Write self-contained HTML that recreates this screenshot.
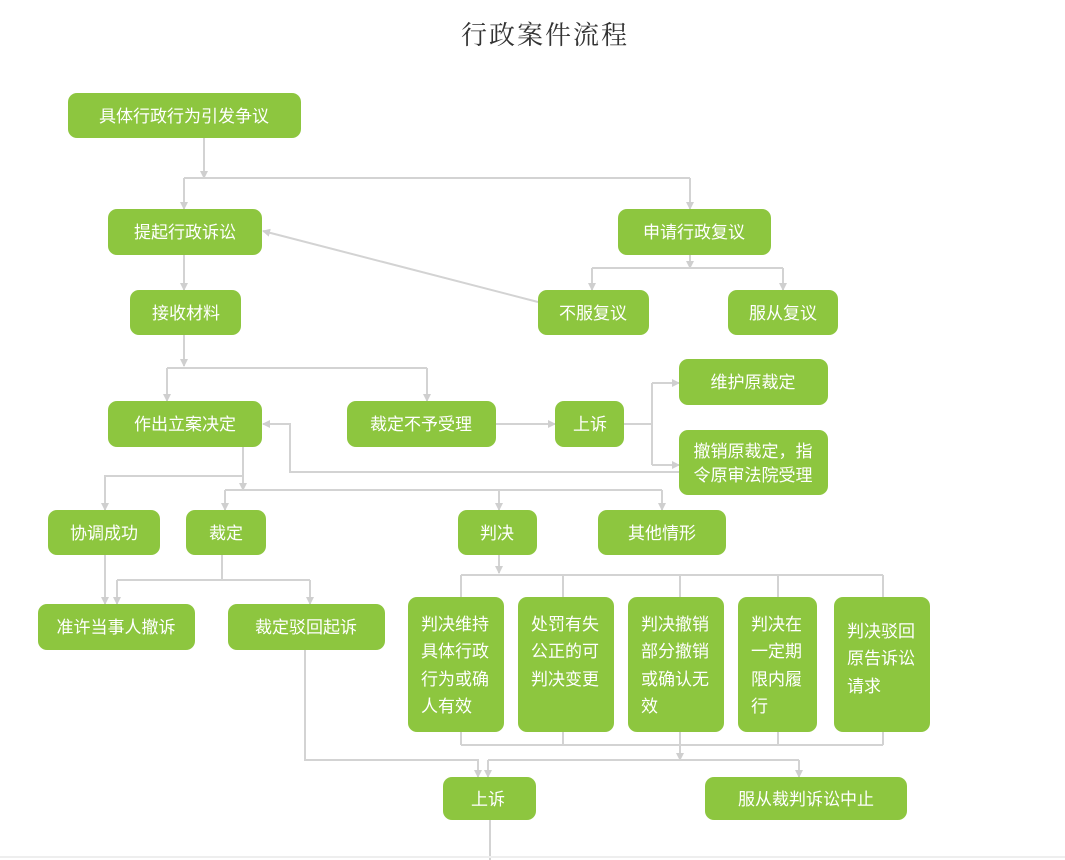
<!DOCTYPE html>
<html><head><meta charset="utf-8"><style>
html,body{margin:0;padding:0;background:#fff;}
svg{display:block}
text{font-family:"Liberation Sans","Noto Sans CJK SC",sans-serif;fill:#fff;font-size:17px;}
</style></head><body>
<svg width="1065" height="860" viewBox="0 0 1065 860" xmlns="http://www.w3.org/2000/svg">
<defs><marker id="a" markerWidth="8" markerHeight="8" refX="7" refY="4" orient="auto" markerUnits="userSpaceOnUse"><path d="M0,0 L8,4 L0,8 z" fill="#cfcfcf"/></marker></defs>
<text x="545" y="44" text-anchor="middle" style="fill:#333;font-size:26px;font-family:'Noto Serif CJK SC','Noto Sans CJK SC',serif;letter-spacing:2px">行政案件流程</text>
<g stroke="#d3d3d3" stroke-width="2" fill="none">
<path d="M204 138V178" marker-end="url(#a)"/>
<path d="M184 178H690"/>
<path d="M184 178V209" marker-end="url(#a)"/>
<path d="M690 178V209" marker-end="url(#a)"/>
<path d="M184 255V290" marker-end="url(#a)"/>
<path d="M538 302L263 231" marker-end="url(#a)"/>
<path d="M690 255V268" marker-end="url(#a)"/>
<path d="M592 268H783"/>
<path d="M592 268V290" marker-end="url(#a)"/>
<path d="M783 268V290" marker-end="url(#a)"/>
<path d="M184 335V366" marker-end="url(#a)"/>
<path d="M167 368H427"/>
<path d="M167 368V401" marker-end="url(#a)"/>
<path d="M427 368V401" marker-end="url(#a)"/>
<path d="M496 424H555" marker-end="url(#a)"/>
<path d="M624 424H652"/>
<path d="M652 383V465"/>
<path d="M652 383H679" marker-end="url(#a)"/>
<path d="M652 465H679" marker-end="url(#a)"/>
<path d="M679 472H290V424H263" marker-end="url(#a)"/>
<path d="M243 447V490" marker-end="url(#a)"/>
<path d="M243 476H105V510" marker-end="url(#a)"/>
<path d="M225 490H662"/>
<path d="M225 490V510" marker-end="url(#a)"/>
<path d="M499 490V510" marker-end="url(#a)"/>
<path d="M662 490V510" marker-end="url(#a)"/>
<path d="M105 555V604" marker-end="url(#a)"/>
<path d="M222 555V580"/>
<path d="M117 580H310"/>
<path d="M117 580V604" marker-end="url(#a)"/>
<path d="M310 580V604" marker-end="url(#a)"/>
<path d="M499 555V573" marker-end="url(#a)"/>
<path d="M461 575H883"/>
<path d="M461 575V597M563 575V597M680 575V597M778 575V597M883 575V597"/>
<path d="M461 732V745M563 732V745M680 732V745M778 732V745M883 732V745"/>
<path d="M461 745H883"/>
<path d="M680 745V760" marker-end="url(#a)"/>
<path d="M488 760H799"/>
<path d="M488 760V777" marker-end="url(#a)"/>
<path d="M799 760V777" marker-end="url(#a)"/>
<path d="M305 650V760H478V777" marker-end="url(#a)"/>
<path d="M490 820V860"/>
</g>
<line x1="0" y1="857" x2="1065" y2="857" stroke="#eee" stroke-width="2"/>
<g fill="#8dc63f">
<rect x="68" y="93" width="233" height="45" rx="9"/>
<rect x="108" y="209" width="154" height="46" rx="9"/>
<rect x="618" y="209" width="153" height="46" rx="9"/>
<rect x="130" y="290" width="111" height="45" rx="9"/>
<rect x="538" y="290" width="111" height="45" rx="9"/>
<rect x="728" y="290" width="110" height="45" rx="9"/>
<rect x="679" y="359" width="149" height="46" rx="9"/>
<rect x="108" y="401" width="154" height="46" rx="9"/>
<rect x="347" y="401" width="149" height="46" rx="9"/>
<rect x="555" y="401" width="69" height="46" rx="9"/>
<rect x="679" y="430" width="149" height="65" rx="9"/>
<rect x="48" y="510" width="112" height="45" rx="9"/>
<rect x="186" y="510" width="80" height="45" rx="9"/>
<rect x="458" y="510" width="79" height="45" rx="9"/>
<rect x="598" y="510" width="128" height="45" rx="9"/>
<rect x="38" y="604" width="157" height="46" rx="9"/>
<rect x="228" y="604" width="157" height="46" rx="9"/>
<rect x="408" y="597" width="96" height="135" rx="9"/>
<rect x="518" y="597" width="96" height="135" rx="9"/>
<rect x="628" y="597" width="96" height="135" rx="9"/>
<rect x="738" y="597" width="79" height="135" rx="9"/>
<rect x="834" y="597" width="96" height="135" rx="9"/>
<rect x="443" y="777" width="93" height="43" rx="9"/>
<rect x="705" y="777" width="202" height="43" rx="9"/>
</g>
<g text-anchor="middle">
<text x="184" y="122">具体行政行为引发争议</text>
<text x="185" y="238">提起行政诉讼</text>
<text x="694" y="238">申请行政复议</text>
<text x="186" y="319">接收材料</text>
<text x="593" y="319">不服复议</text>
<text x="783" y="319">服从复议</text>
<text x="753" y="388">维护原裁定</text>
<text x="185" y="430">作出立案决定</text>
<text x="421" y="430">裁定不予受理</text>
<text x="590" y="430">上诉</text>
<text x="753" y="457">撤销原裁定，指</text>
<text x="753" y="481">令原审法院受理</text>
<text x="104" y="539">协调成功</text>
<text x="226" y="539">裁定</text>
<text x="497" y="539">判决</text>
<text x="662" y="539">其他情形</text>
<text x="116" y="633">准许当事人撤诉</text>
<text x="306" y="633">裁定驳回起诉</text>
<text x="488" y="805">上诉</text>
<text x="806" y="805">服从裁判诉讼中止</text>
</g>
<g>
<text x="421" y="630">判决维持</text><text x="421" y="657">具体行政</text><text x="421" y="685">行为或确</text><text x="421" y="712">人有效</text>
<text x="531" y="630">处罚有失</text><text x="531" y="657">公正的可</text><text x="531" y="685">判决变更</text>
<text x="641" y="630">判决撤销</text><text x="641" y="657">部分撤销</text><text x="641" y="685">或确认无</text><text x="641" y="712">效</text>
<text x="751" y="630">判决在</text><text x="751" y="657">一定期</text><text x="751" y="685">限内履</text><text x="751" y="712">行</text>
<text x="847" y="637">判决驳回</text><text x="847" y="664">原告诉讼</text><text x="847" y="692">请求</text>
</g>
</svg>
</body></html>
